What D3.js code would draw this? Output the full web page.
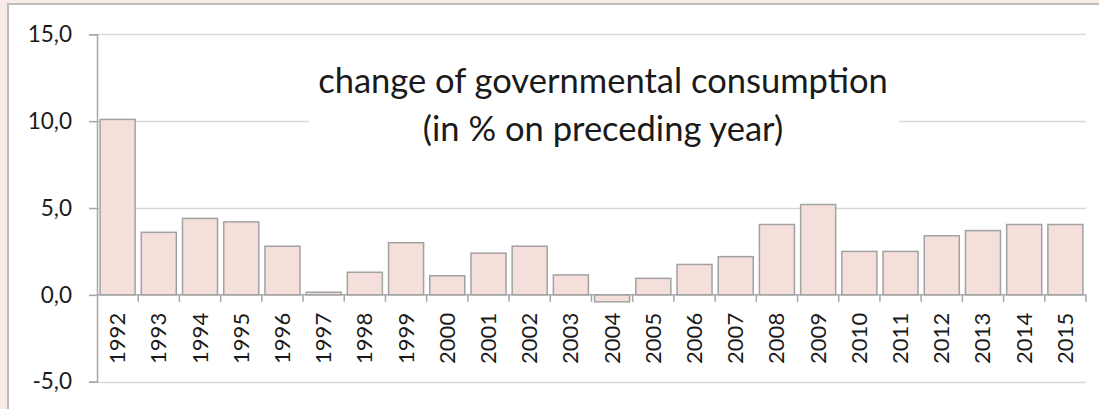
<!DOCTYPE html>
<html>
<head>
<meta charset="utf-8">
<script src="https://cdn.jsdelivr.net/npm/d3@7"></script>
<style>
  html, body { margin: 0; padding: 0; background: #f9ebe8; }
  svg { display: block; }
  text { font-family: Lato, "Open Sans", sans-serif; fill: #1a1a1a; }
</style>
</head>
<body>
<svg id="chart" width="1099" height="409"></svg>
<script>
const years = ["1992","1993","1994","1995","1996","1997","1998","1999","2000","2001","2002","2003",
               "2004","2005","2006","2007","2008","2009","2010","2011","2012","2013","2014","2015"];
const changes = [10.1, 3.6, 4.4, 4.2, 2.8, 0.15, 1.3, 3.0, 1.1, 2.4, 2.8, 1.15,
                 -0.4, 0.95, 1.75, 2.2, 4.05, 5.2, 2.5, 2.5, 3.4, 3.7, 4.05, 4.05];
const yTicks = [-5, 0, 5, 10, 15];
const titleLines = ["change of governmental consumption", "(in % on preceding year)"];

const svg = d3.select("#chart");
const W = 1099, H = 409;
const mLeft = 97, mRight = 1086, mTop = 34.3, mBottom = 381.7;

// frame
svg.append("rect").attr("x", 8).attr("y", 4).attr("width", W).attr("height", H)
  .attr("fill", "#ffffff").attr("stroke", "#bdbdbd").attr("stroke-width", 2);

const x = d3.scaleBand().domain(years).range([mLeft, mRight])
  .paddingInner(0.15).paddingOuter(0.075);
const y = d3.scaleLinear().domain([-5, 15]).range([mBottom, mTop]);
const fmt = v => d3.format(".1f")(v).replace(".", ",").replace("\u2212", "-");

// gridlines
svg.append("g").selectAll("line").data(yTicks.filter(d => d !== 0)).join("line")
  .attr("x1", mLeft).attr("x2", mRight)
  .attr("y1", d => Math.round(y(d)) + 0.5).attr("y2", d => Math.round(y(d)) + 0.5)
  .attr("stroke", "#d9d9d9").attr("stroke-width", 1.5);

// y axis
const yAxis = svg.append("g").attr("transform", `translate(${mLeft},0)`)
  .call(d3.axisLeft(y).tickValues(yTicks).tickFormat(fmt).tickSize(8).tickPadding(17));
yAxis.select(".domain").attr("stroke", "#a6a6a6").attr("stroke-width", 1.5);
yAxis.selectAll(".tick line").attr("stroke", "#a6a6a6").attr("stroke-width", 1.5);
yAxis.selectAll(".tick text").attr("font-size", 22.5).attr("font-family", "Lato, sans-serif")
  .attr("fill", "#1a1a1a");

// title box (hides gridline)
const tb = svg.append("g");
tb.append("rect").attr("x", 309).attr("y", 55).attr("width", 590).attr("height", 100).attr("fill", "#ffffff");
const t1 = tb.append("text").attr("x", 603).attr("y", 93).attr("text-anchor", "middle")
  .attr("font-size", 30).text(titleLines[0]);
const t2 = tb.append("text").attr("x", 603).attr("y", 141).attr("text-anchor", "middle")
  .attr("font-size", 30).text(titleLines[1]);
const w1 = t1.node().getComputedTextLength();
const fs = 30 * 570 / w1;
t1.attr("font-size", fs); t2.attr("font-size", fs);

// bars
svg.append("g").selectAll("rect").data(years).join("rect")
  .attr("x", d => x(d))
  .attr("width", x.bandwidth())
  .attr("y", (d, i) => y(Math.max(0, changes[i])))
  .attr("height", (d, i) => Math.abs(y(changes[i]) - y(0)))
  .attr("fill", "#f4dfdb").attr("stroke", "#a2a2a2").attr("stroke-width", 1.5);

// x axis line at zero
const y0 = y(0);
svg.append("line").attr("x1", mLeft).attr("x2", mRight).attr("y1", y0).attr("y2", y0)
  .attr("stroke", "#a6a6a6").attr("stroke-width", 1.5);
const step = x.step();
const bounds = years.map(d => x(d) - step * x.paddingInner() / 2).slice(1).concat([mRight]);
svg.append("g").selectAll("line").data(bounds).join("line")
  .attr("x1", d => d).attr("x2", d => d).attr("y1", y0).attr("y2", y0 + 7)
  .attr("stroke", "#a6a6a6").attr("stroke-width", 1.5);
svg.append("g").selectAll("text").data(years).join("text")
  .attr("transform", d => `translate(${x(d) + x.bandwidth() / 2 + 7.5},${y0 + 18}) rotate(-90)`)
  .attr("text-anchor", "end").attr("font-size", 22).text(d => d);
</script>
</body>
</html>
